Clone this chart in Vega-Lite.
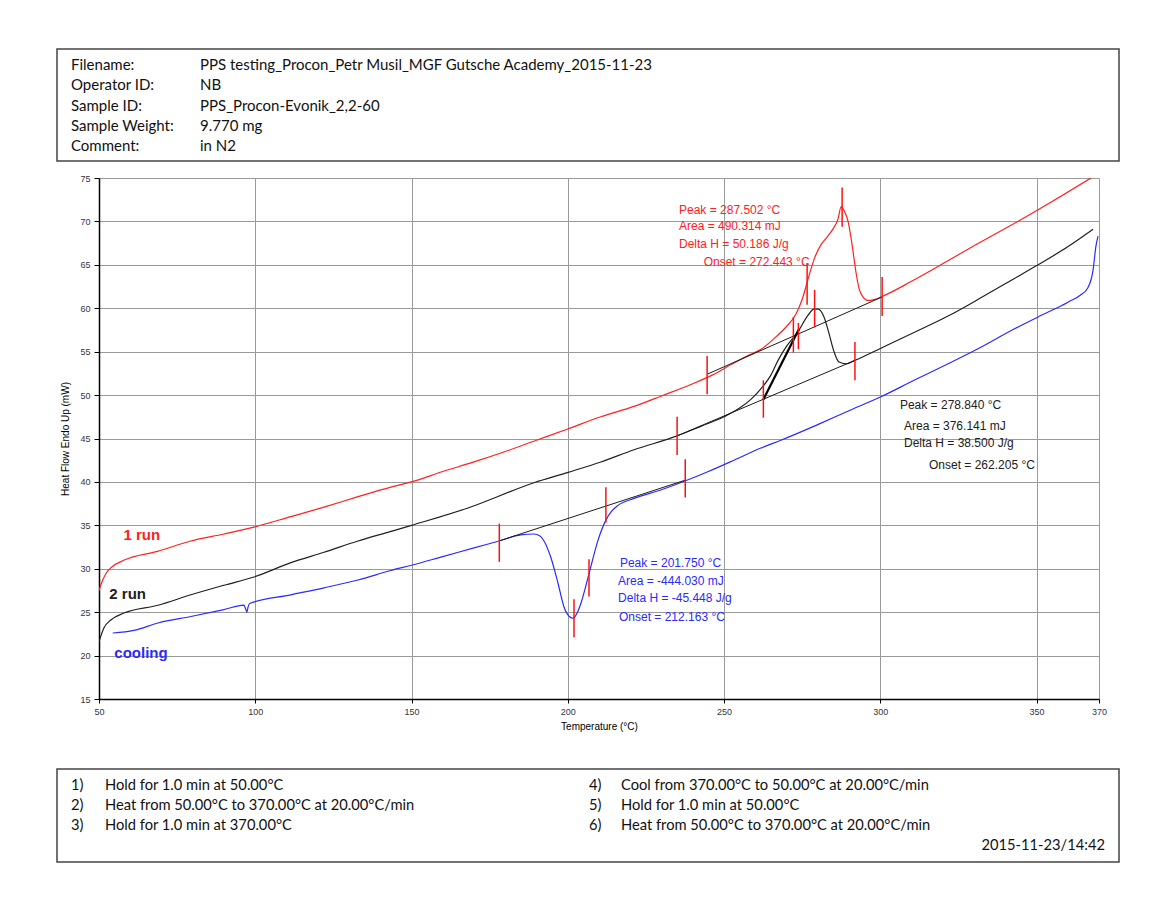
{
  "$schema": "https://vega.github.io/schema/vega-lite/v6.json",
  "padding": {"left": 56, "top": 48, "right": 5, "bottom": 5},
  "background": "#ffffff",
  "datasets": {
    "header": [
      {"row": 0, "col": 0, "text": "Filename:"},
      {"row": 0, "col": 1, "text": "PPS testing_Procon_Petr Musil_MGF Gutsche Academy_2015-11-23"},
      {"row": 1, "col": 0, "text": "Operator ID:"},
      {"row": 1, "col": 1, "text": "NB"},
      {"row": 2, "col": 0, "text": "Sample ID:"},
      {"row": 2, "col": 1, "text": "PPS_Procon-Evonik_2,2-60"},
      {"row": 3, "col": 0, "text": "Sample Weight:"},
      {"row": 3, "col": 1, "text": "9.770 mg"},
      {"row": 4, "col": 0, "text": "Comment:"},
      {"row": 4, "col": 1, "text": "in N2"}
    ],
    "footer": [
      {"row": 0, "col": 0, "text": "1)"},
      {"row": 0, "col": 1, "text": "Hold for 1.0 min at 50.00°C"},
      {"row": 0, "col": 2, "text": "4)"},
      {"row": 0, "col": 3, "text": "Cool from 370.00°C to 50.00°C at 20.00°C/min"},
      {"row": 1, "col": 0, "text": "2)"},
      {"row": 1, "col": 1, "text": "Heat from 50.00°C to 370.00°C at 20.00°C/min"},
      {"row": 1, "col": 2, "text": "5)"},
      {"row": 1, "col": 3, "text": "Hold for 1.0 min at 50.00°C"},
      {"row": 2, "col": 0, "text": "3)"},
      {"row": 2, "col": 1, "text": "Hold for 1.0 min at 370.00°C"},
      {"row": 2, "col": 2, "text": "6)"},
      {"row": 2, "col": 3, "text": "Heat from 50.00°C to 370.00°C at 20.00°C/min"}
    ],
    "footdate": [
      {"row": 3, "col": 4, "text": "2015-11-23/14:42"}
    ],
    "curves": [
      {"s": "1 run", "T": 50, "v": 27.5}, {"s": "1 run", "T": 51.2, "v": 28.7}, {"s": "1 run", "T": 52.5, "v": 29.6},
      {"s": "1 run", "T": 54.1, "v": 30.2}, {"s": "1 run", "T": 58.1, "v": 31.0}, {"s": "1 run", "T": 68.7, "v": 32.0},
      {"s": "1 run", "T": 79.4, "v": 33.2}, {"s": "1 run", "T": 90, "v": 34.0}, {"s": "1 run", "T": 99.6, "v": 34.8},
      {"s": "1 run", "T": 111.4, "v": 36.0}, {"s": "1 run", "T": 122, "v": 37.1}, {"s": "1 run", "T": 132.9, "v": 38.3},
      {"s": "1 run", "T": 143.4, "v": 39.4}, {"s": "1 run", "T": 150, "v": 40.0}, {"s": "1 run", "T": 160, "v": 41.2},
      {"s": "1 run", "T": 170, "v": 42.3}, {"s": "1 run", "T": 180, "v": 43.5}, {"s": "1 run", "T": 190, "v": 44.8},
      {"s": "1 run", "T": 200, "v": 46.1}, {"s": "1 run", "T": 210.6, "v": 47.5}, {"s": "1 run", "T": 221.2, "v": 48.7},
      {"s": "1 run", "T": 230, "v": 49.9}, {"s": "1 run", "T": 240, "v": 51.3}, {"s": "1 run", "T": 246.2, "v": 52.3},
      {"s": "1 run", "T": 253.2, "v": 53.7}, {"s": "1 run", "T": 258, "v": 54.6}, {"s": "1 run", "T": 262, "v": 55.3},
      {"s": "1 run", "T": 266, "v": 56.5}, {"s": "1 run", "T": 270, "v": 57.9}, {"s": "1 run", "T": 273, "v": 59.3},
      {"s": "1 run", "T": 275, "v": 61.0}, {"s": "1 run", "T": 277, "v": 63.5}, {"s": "1 run", "T": 279, "v": 65.8},
      {"s": "1 run", "T": 281, "v": 67.3}, {"s": "1 run", "T": 283, "v": 68.2}, {"s": "1 run", "T": 285, "v": 69.2},
      {"s": "1 run", "T": 286.5, "v": 70.3}, {"s": "1 run", "T": 287.5, "v": 71.7}, {"s": "1 run", "T": 288.5, "v": 71.2},
      {"s": "1 run", "T": 289.7, "v": 70.0}, {"s": "1 run", "T": 290.7, "v": 68.0}, {"s": "1 run", "T": 291.5, "v": 66.0},
      {"s": "1 run", "T": 292.3, "v": 64.0}, {"s": "1 run", "T": 293.2, "v": 62.3}, {"s": "1 run", "T": 294.5, "v": 61.3},
      {"s": "1 run", "T": 296, "v": 60.9}, {"s": "1 run", "T": 298, "v": 61.0}, {"s": "1 run", "T": 300.2, "v": 61.3},
      {"s": "1 run", "T": 310, "v": 63.1}, {"s": "1 run", "T": 319.4, "v": 65.0}, {"s": "1 run", "T": 330, "v": 67.2},
      {"s": "1 run", "T": 344, "v": 70.0}, {"s": "1 run", "T": 355, "v": 72.3}, {"s": "1 run", "T": 367.4, "v": 75.0},

      {"s": "2 run", "T": 50, "v": 21.6}, {"s": "2 run", "T": 51.6, "v": 23.2}, {"s": "2 run", "T": 53.8, "v": 24.1},
      {"s": "2 run", "T": 58, "v": 24.9}, {"s": "2 run", "T": 68.9, "v": 25.8}, {"s": "2 run", "T": 79.4, "v": 27.0},
      {"s": "2 run", "T": 90, "v": 28.1}, {"s": "2 run", "T": 99.6, "v": 29.05}, {"s": "2 run", "T": 111.4, "v": 30.7},
      {"s": "2 run", "T": 122, "v": 31.9}, {"s": "2 run", "T": 132.9, "v": 33.2}, {"s": "2 run", "T": 143.4, "v": 34.3},
      {"s": "2 run", "T": 150, "v": 35.0}, {"s": "2 run", "T": 168.1, "v": 37.0}, {"s": "2 run", "T": 189.2, "v": 39.9},
      {"s": "2 run", "T": 200.1, "v": 41.1}, {"s": "2 run", "T": 210.6, "v": 42.3}, {"s": "2 run", "T": 221.2, "v": 43.7},
      {"s": "2 run", "T": 235, "v": 45.3}, {"s": "2 run", "T": 242.6, "v": 46.4}, {"s": "2 run", "T": 250, "v": 47.5},
      {"s": "2 run", "T": 255, "v": 48.5}, {"s": "2 run", "T": 258.6, "v": 49.5}, {"s": "2 run", "T": 262, "v": 50.8},
      {"s": "2 run", "T": 265, "v": 52.3}, {"s": "2 run", "T": 267.3, "v": 54.0}, {"s": "2 run", "T": 270, "v": 55.6},
      {"s": "2 run", "T": 273.7, "v": 57.3}, {"s": "2 run", "T": 276.9, "v": 59.2}, {"s": "2 run", "T": 278.8, "v": 59.9},
      {"s": "2 run", "T": 280.1, "v": 59.9}, {"s": "2 run", "T": 282, "v": 59.0}, {"s": "2 run", "T": 283.6, "v": 57.1},
      {"s": "2 run", "T": 285.2, "v": 55.0}, {"s": "2 run", "T": 286.8, "v": 53.8}, {"s": "2 run", "T": 289, "v": 53.6},
      {"s": "2 run", "T": 291.9, "v": 54.0}, {"s": "2 run", "T": 300.2, "v": 55.4}, {"s": "2 run", "T": 310.8, "v": 57.2},
      {"s": "2 run", "T": 321.7, "v": 59.1}, {"s": "2 run", "T": 332.2, "v": 61.2}, {"s": "2 run", "T": 342.8, "v": 63.4},
      {"s": "2 run", "T": 350.5, "v": 65.0}, {"s": "2 run", "T": 360.1, "v": 67.1}, {"s": "2 run", "T": 368.1, "v": 69.1},

      {"s": "cooling", "T": 54.4, "v": 22.6}, {"s": "cooling", "T": 61.2, "v": 22.9}, {"s": "cooling", "T": 68.9, "v": 23.75},
      {"s": "cooling", "T": 79.4, "v": 24.5}, {"s": "cooling", "T": 90, "v": 25.3}, {"s": "cooling", "T": 96.4, "v": 25.8},
      {"s": "cooling", "T": 96.9, "v": 25.4}, {"s": "cooling", "T": 97.3, "v": 25.0}, {"s": "cooling", "T": 97.7, "v": 25.6},
      {"s": "cooling", "T": 98.2, "v": 26.0}, {"s": "cooling", "T": 111.4, "v": 27.0}, {"s": "cooling", "T": 122, "v": 27.8},
      {"s": "cooling", "T": 132.9, "v": 28.7}, {"s": "cooling", "T": 143.4, "v": 29.8}, {"s": "cooling", "T": 150, "v": 30.4},
      {"s": "cooling", "T": 160, "v": 31.4}, {"s": "cooling", "T": 170, "v": 32.4}, {"s": "cooling", "T": 178, "v": 33.2},
      {"s": "cooling", "T": 185, "v": 33.9}, {"s": "cooling", "T": 189.2, "v": 34.0}, {"s": "cooling", "T": 191, "v": 33.8},
      {"s": "cooling", "T": 192.4, "v": 33.2}, {"s": "cooling", "T": 194.6, "v": 31.3}, {"s": "cooling", "T": 196.9, "v": 28.3},
      {"s": "cooling", "T": 198.8, "v": 25.6}, {"s": "cooling", "T": 200.5, "v": 24.5}, {"s": "cooling", "T": 201.7, "v": 24.3},
      {"s": "cooling", "T": 203, "v": 24.9}, {"s": "cooling", "T": 204.2, "v": 26.0}, {"s": "cooling", "T": 206.5, "v": 29.0},
      {"s": "cooling", "T": 209.7, "v": 33.3}, {"s": "cooling", "T": 212.2, "v": 35.6}, {"s": "cooling", "T": 214, "v": 36.6},
      {"s": "cooling", "T": 216.1, "v": 37.3}, {"s": "cooling", "T": 221.2, "v": 38.1}, {"s": "cooling", "T": 230, "v": 39.1},
      {"s": "cooling", "T": 237.5, "v": 40.1}, {"s": "cooling", "T": 245, "v": 41.2}, {"s": "cooling", "T": 253.2, "v": 42.5},
      {"s": "cooling", "T": 261.8, "v": 43.9}, {"s": "cooling", "T": 268.2, "v": 44.8}, {"s": "cooling", "T": 280, "v": 46.6},
      {"s": "cooling", "T": 290, "v": 48.2}, {"s": "cooling", "T": 300.2, "v": 49.8}, {"s": "cooling", "T": 310.8, "v": 51.7},
      {"s": "cooling", "T": 321.7, "v": 53.6}, {"s": "cooling", "T": 332.2, "v": 55.5}, {"s": "cooling", "T": 342.8, "v": 57.6},
      {"s": "cooling", "T": 350.5, "v": 59.0}, {"s": "cooling", "T": 360.1, "v": 60.7}, {"s": "cooling", "T": 364, "v": 61.5},
      {"s": "cooling", "T": 366.5, "v": 62.4}, {"s": "cooling", "T": 368.1, "v": 64.4}, {"s": "cooling", "T": 369, "v": 67.1},
      {"s": "cooling", "T": 369.7, "v": 68.3}
    ],
    "baselines": [
      {"kind": "baseline", "T": 244.6, "v": 52.4, "T2": 300.6, "v2": 61.3},
      {"kind": "baseline", "T": 235.0, "v": 45.3, "T2": 291.9, "v2": 54.0},
      {"kind": "baseline", "T": 178.0, "v": 33.2, "T2": 237.6, "v2": 40.2},
      {"kind": "tangent", "T": 262.6, "v": 49.5, "T2": 274.0, "v2": 57.6}
    ],
    "markers": [
      {"T": 178.1, "lo": 30.8, "hi": 35.2}, {"T": 202.0, "lo": 22.1, "hi": 26.5},
      {"T": 206.8, "lo": 26.8, "hi": 31.1}, {"T": 212.2, "lo": 35.3, "hi": 39.4},
      {"T": 235.0, "lo": 43.1, "hi": 47.5}, {"T": 237.6, "lo": 38.2, "hi": 42.6},
      {"T": 244.6, "lo": 50.1, "hi": 54.5}, {"T": 262.6, "lo": 47.4, "hi": 51.7},
      {"T": 272.2, "lo": 54.9, "hi": 59.0}, {"T": 273.8, "lo": 55.3, "hi": 58.3},
      {"T": 276.6, "lo": 60.4, "hi": 65.2}, {"T": 279.0, "lo": 57.8, "hi": 62.1},
      {"T": 287.8, "lo": 69.4, "hi": 73.9}, {"T": 291.9, "lo": 51.7, "hi": 56.1},
      {"T": 300.6, "lo": 59.1, "hi": 63.6}
    ],
    "notes": [
      {"s": "1 run", "T": 235.6, "v": 71.3, "text": "Peak = 287.502 °C"},
      {"s": "1 run", "T": 235.6, "v": 69.5, "text": "Area = 490.314 mJ"},
      {"s": "1 run", "T": 235.6, "v": 67.4, "text": "Delta H = 50.186 J/g"},
      {"s": "1 run", "T": 243.5, "v": 65.3, "text": "Onset = 272.443 °C"},
      {"s": "2 run", "T": 306.3, "v": 48.9, "text": "Peak = 278.840 °C"},
      {"s": "2 run", "T": 307.6, "v": 46.4, "text": "Area = 376.141 mJ"},
      {"s": "2 run", "T": 307.6, "v": 44.5, "text": "Delta H = 38.500 J/g"},
      {"s": "2 run", "T": 315.6, "v": 42.0, "text": "Onset = 262.205 °C"},
      {"s": "cooling", "T": 216.7, "v": 30.7, "text": "Peak = 201.750 °C"},
      {"s": "cooling", "T": 216.1, "v": 28.6, "text": "Area = -444.030 mJ"},
      {"s": "cooling", "T": 216.1, "v": 26.6, "text": "Delta H = -45.448 J/g"},
      {"s": "cooling", "T": 216.4, "v": 24.5, "text": "Onset = 212.163 °C"}
    ],
    "serieslabels": [
      {"s": "1 run", "T": 57.8, "v": 33.9, "text": "1 run"},
      {"s": "2 run", "T": 53.3, "v": 27.1, "text": "2 run"},
      {"s": "cooling", "T": 54.9, "v": 20.3, "text": "cooling"}
    ]
  },
  "spacing": 12,
  "vconcat": [
    {
      "width": 1062,
      "height": 112,
      "view": {"stroke": "#444444", "strokeWidth": 1.5, "fill": null},
      "data": {"name": "header"},
      "mark": {"type": "text", "align": "left", "baseline": "middle", "font": "Lato", "fontSize": 15, "color": "#111111"},
      "encoding": {
        "x": {"field": "col", "type": "quantitative", "scale": {"domain": [0, 1], "range": [14, 143], "nice": false, "zero": false}, "axis": null},
        "y": {"field": "row", "type": "quantitative", "scale": {"domain": [0, 4], "range": [16, 97], "nice": false, "zero": false}, "axis": null},
        "text": {"field": "text", "type": "nominal"}
      }
    },
    {
      "spacing": 37,
      "vconcat": [
        {
          "bounds": "flush",
          "spacing": 0,
          "hconcat": [
            {
              "width": 42,
              "height": 10,
              "view": {"stroke": null},
              "data": {"values": []},
              "mark": "point"
            },
            {
              "width": 1000,
              "height": 521,
              "view": {"stroke": null},
              "layer": [
                {
                  "data": {"name": "curves"},
                  "mark": {"type": "line", "strokeWidth": 1.2, "clip": true, "interpolate": "monotone"},
                  "encoding": {
                    "x": {
                      "field": "T", "type": "quantitative",
                      "scale": {"domain": [50, 370], "nice": false, "zero": false},
                      "axis": {
                        "values": [50, 100, 150, 200, 250, 300, 350, 370], "format": "d",
                        "title": "Temperature (°C)", "grid": true, "gridColor": "#9a9a9a", "gridWidth": 1,
                        "domainColor": "#000000", "domainWidth": 1.5, "tickColor": "#000000", "tickSize": 4,
                        "labelFont": "Liberation Sans Narrow, Liberation Sans, sans-serif", "labelFontSize": 9,
                        "labelColor": "#333344", "labelPadding": 4, "labelFlush": false,
                        "titleFont": "Liberation Sans Narrow, Liberation Sans, sans-serif", "titleFontSize": 10,
                        "titleFontWeight": "normal", "titleColor": "#000000", "titlePadding": 5
                      }
                    },
                    "y": {
                      "field": "v", "type": "quantitative",
                      "scale": {"domain": [15, 75], "nice": false, "zero": false},
                      "axis": {
                        "values": [15, 20, 25, 30, 35, 40, 45, 50, 55, 60, 65, 70, 75],
                        "title": "Heat Flow Endo Up (mW)", "grid": true, "gridColor": "#9a9a9a", "gridWidth": 1,
                        "domainColor": "#000000", "domainWidth": 1.5, "tickColor": "#000000", "tickSize": 5,
                        "labelFont": "Liberation Sans Narrow, Liberation Sans, sans-serif", "labelFontSize": 9,
                        "labelColor": "#333344", "labelPadding": 4,
                        "titleFont": "Liberation Sans, sans-serif", "titleFontSize": 10,
                        "titleFontWeight": "normal", "titleColor": "#000000", "titlePadding": 9
                      }
                    },
                    "color": {
                      "field": "s", "type": "nominal",
                      "scale": {"domain": ["1 run", "2 run", "cooling"], "range": ["#ff2020", "#202020", "#2a2aff"]},
                      "legend": null
                    }
                  }
                },
                {
                  "data": {"name": "baselines"},
                  "transform": [{"filter": "datum.kind === 'baseline'"}],
                  "mark": {"type": "rule", "color": "#1a1a1a", "strokeWidth": 1},
                  "encoding": {
                    "x": {"field": "T", "type": "quantitative"},
                    "y": {"field": "v", "type": "quantitative"},
                    "x2": {"field": "T2"},
                    "y2": {"field": "v2"}
                  }
                },
                {
                  "data": {"name": "baselines"},
                  "transform": [{"filter": "datum.kind === 'tangent'"}],
                  "mark": {"type": "rule", "color": "#000000", "strokeWidth": 2.2},
                  "encoding": {
                    "x": {"field": "T", "type": "quantitative"},
                    "y": {"field": "v", "type": "quantitative"},
                    "x2": {"field": "T2"},
                    "y2": {"field": "v2"}
                  }
                },
                {
                  "data": {"name": "markers"},
                  "mark": {"type": "rule", "color": "#ff1010", "strokeWidth": 1.5},
                  "encoding": {
                    "x": {"field": "T", "type": "quantitative"},
                    "y": {"field": "lo", "type": "quantitative"},
                    "y2": {"field": "hi"}
                  }
                },
                {
                  "data": {"name": "notes"},
                  "mark": {"type": "text", "align": "left", "baseline": "middle", "font": "Liberation Sans, sans-serif", "fontSize": 12},
                  "encoding": {
                    "x": {"field": "T", "type": "quantitative"},
                    "y": {"field": "v", "type": "quantitative"},
                    "text": {"field": "text", "type": "nominal"},
                    "color": {"field": "s", "type": "nominal"}
                  }
                },
                {
                  "data": {"name": "serieslabels"},
                  "mark": {"type": "text", "align": "left", "baseline": "middle", "font": "Liberation Sans, sans-serif", "fontSize": 15, "fontWeight": "bold"},
                  "encoding": {
                    "x": {"field": "T", "type": "quantitative"},
                    "y": {"field": "v", "type": "quantitative"},
                    "text": {"field": "text", "type": "nominal"},
                    "color": {"field": "s", "type": "nominal"}
                  }
                }
              ]
            }
          ]
        },
        {
          "width": 1062,
          "height": 93,
          "view": {"stroke": "#444444", "strokeWidth": 1.5, "fill": null},
          "layer": [
            {
              "data": {"name": "footer"},
              "mark": {"type": "text", "align": "left", "baseline": "middle", "font": "Lato", "fontSize": 14.7, "color": "#111111"},
              "encoding": {
                "x": {"field": "col", "type": "quantitative", "scale": {"domain": [0, 1, 2, 3, 4], "range": [14, 48, 532, 564, 1048], "nice": false, "zero": false}, "axis": null},
                "y": {"field": "row", "type": "quantitative", "scale": {"domain": [0, 3], "range": [17, 77], "nice": false, "zero": false}, "axis": null},
                "text": {"field": "text", "type": "nominal"}
              }
            },
            {
              "data": {"name": "footdate"},
              "mark": {"type": "text", "align": "right", "baseline": "middle", "font": "Lato", "fontSize": 14.7, "color": "#111111"},
              "encoding": {
                "x": {"field": "col", "type": "quantitative"},
                "y": {"field": "row", "type": "quantitative"},
                "text": {"field": "text", "type": "nominal"}
              }
            }
          ]
        }
      ]
    }
  ]
}
